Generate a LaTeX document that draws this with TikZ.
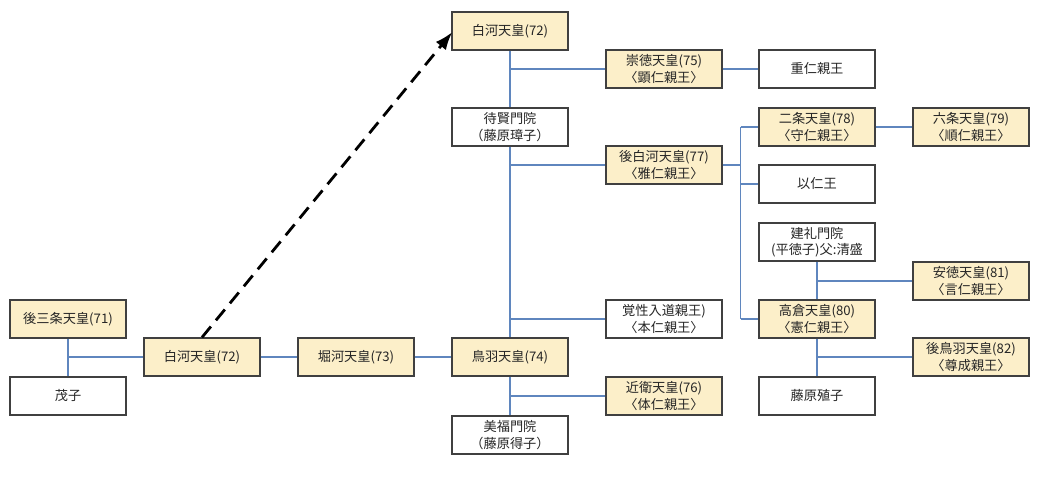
\documentclass[tikz,border=0pt]{standalone}
\usepackage{fontspec}
\setmainfont{Noto Sans CJK JP}
\usetikzlibrary{arrows.meta,calc}
\definecolor{boxfill}{HTML}{FCEFC9}
\definecolor{boxdraw}{HTML}{404040}
\definecolor{linkblue}{HTML}{5F86BE}
\begin{document}
\begin{tikzpicture}[x=1pt,y=-1pt,
  person/.style={draw=boxdraw,line width=1.3pt,fill=white,minimum width=116pt,minimum height=38pt,
    inner sep=0pt,align=center,font=\fontsize{13.2}{16.5}\selectfont,text=black!85},
  emperor/.style={person,fill=boxfill},
  link/.style={draw=linkblue,line width=1.3pt},
  jump/.style={draw=black,line width=2.8pt,dash pattern=on 14pt off 8pt,-{Latex[length=18pt,width=13pt]}}]
\useasboundingbox (0,0) rectangle (1046,478);
\node[emperor] (gosanjo) at (68,319) {後三条天皇(71)};
\node[person] (shigeko) at (68,396) {茂子};
\node[emperor] (shirakawa) at (202,357) {白河天皇(72)};
\node[emperor] (horikawa) at (356,357) {堀河天皇(73)};
\node[emperor] (toba) at (510,357) {鳥羽天皇(74)};
\node[person] (bifukumon) at (510,435) {美福門院\\（藤原得子）};
\node[emperor] (shirakawa2) at (510,31) {白河天皇(72)};
\node[emperor] (sutoku) at (664,69) {崇徳天皇(75)\\〈顕仁親王〉};
\node[person] (shigehito) at (817,69) {重仁親王};
\node[person] (taikenmon) at (510,127) {待賢門院\\（藤原璋子）};
\node[emperor] (nijo) at (817,127) {二条天皇(78)\\〈守仁親王〉};
\node[emperor] (goshirakawa) at (664,165) {後白河天皇(77)\\〈雅仁親王〉};
\node[person] (mochihito) at (817,184) {以仁王};
\node[emperor] (rokujo) at (971,127) {六条天皇(79)\\〈順仁親王〉};
\node[person] (kenreimon) at (817,242) {建礼門院\\(平徳子)父:清盛};
\node[emperor] (antoku) at (971,281) {安徳天皇(81)\\〈言仁親王〉};
\node[person] (kakusho) at (664,319) {覚性入道親王)\\〈本仁親王〉};
\node[emperor] (takakura) at (817,319) {高倉天皇(80)\\〈憲仁親王〉};
\node[emperor] (gotoba) at (971,357) {後鳥羽天皇(82)\\〈尊成親王〉};
\node[emperor] (konoe) at (664,396) {近衛天皇(76)\\〈体仁親王〉};
\node[person] (shokushi) at (817,396) {藤原殖子};
% connectors
\draw[link] (gosanjo.south) -- (shigeko.north);
\draw[link] (gosanjo.south |- shirakawa.west) -- (shirakawa.west);
\draw[link] (shirakawa.east) -- (horikawa.west);
\draw[link] (horikawa.east) -- (toba.west);
\draw[link] (shirakawa2.south) -- (taikenmon.north);
\draw[link] (shirakawa2.south |- sutoku.west) -- (sutoku.west);
\draw[link] (sutoku.east) -- (shigehito.west);
\draw[link] (taikenmon.south) -- (toba.north);
\draw[link] (taikenmon.south |- goshirakawa.west) -- (goshirakawa.west);
\draw[link] (taikenmon.south |- kakusho.west) -- (kakusho.west);
\draw[link] (toba.south) -- (bifukumon.north);
\draw[link] (toba.south |- konoe.west) -- (konoe.west);
\coordinate (gmid) at ($(goshirakawa.east)!0.5!(nijo.west)$);
\draw[link] (goshirakawa.east) -- (gmid |- goshirakawa.east);
\draw[link] (gmid |- nijo.west) -- (gmid |- takakura.west);
\draw[link] (gmid |- nijo.west) -- (nijo.west);
\draw[link] (gmid |- mochihito.west) -- (mochihito.west);
\draw[link] (gmid |- takakura.west) -- (takakura.west);
\draw[link] (nijo.east) -- (rokujo.west);
\draw[link] (kenreimon.south) -- (takakura.north);
\draw[link] (kenreimon.south |- antoku.west) -- (antoku.west);
\draw[link] (takakura.south) -- (shokushi.north);
\draw[link] (takakura.south |- gotoba.west) -- (gotoba.west);
% dashed arrow
\coordinate (tip) at ([xshift=1pt,yshift=-1pt]shirakawa2.west);
\draw[jump] (shirakawa.north) -- (tip);
\end{tikzpicture}
\end{document}
